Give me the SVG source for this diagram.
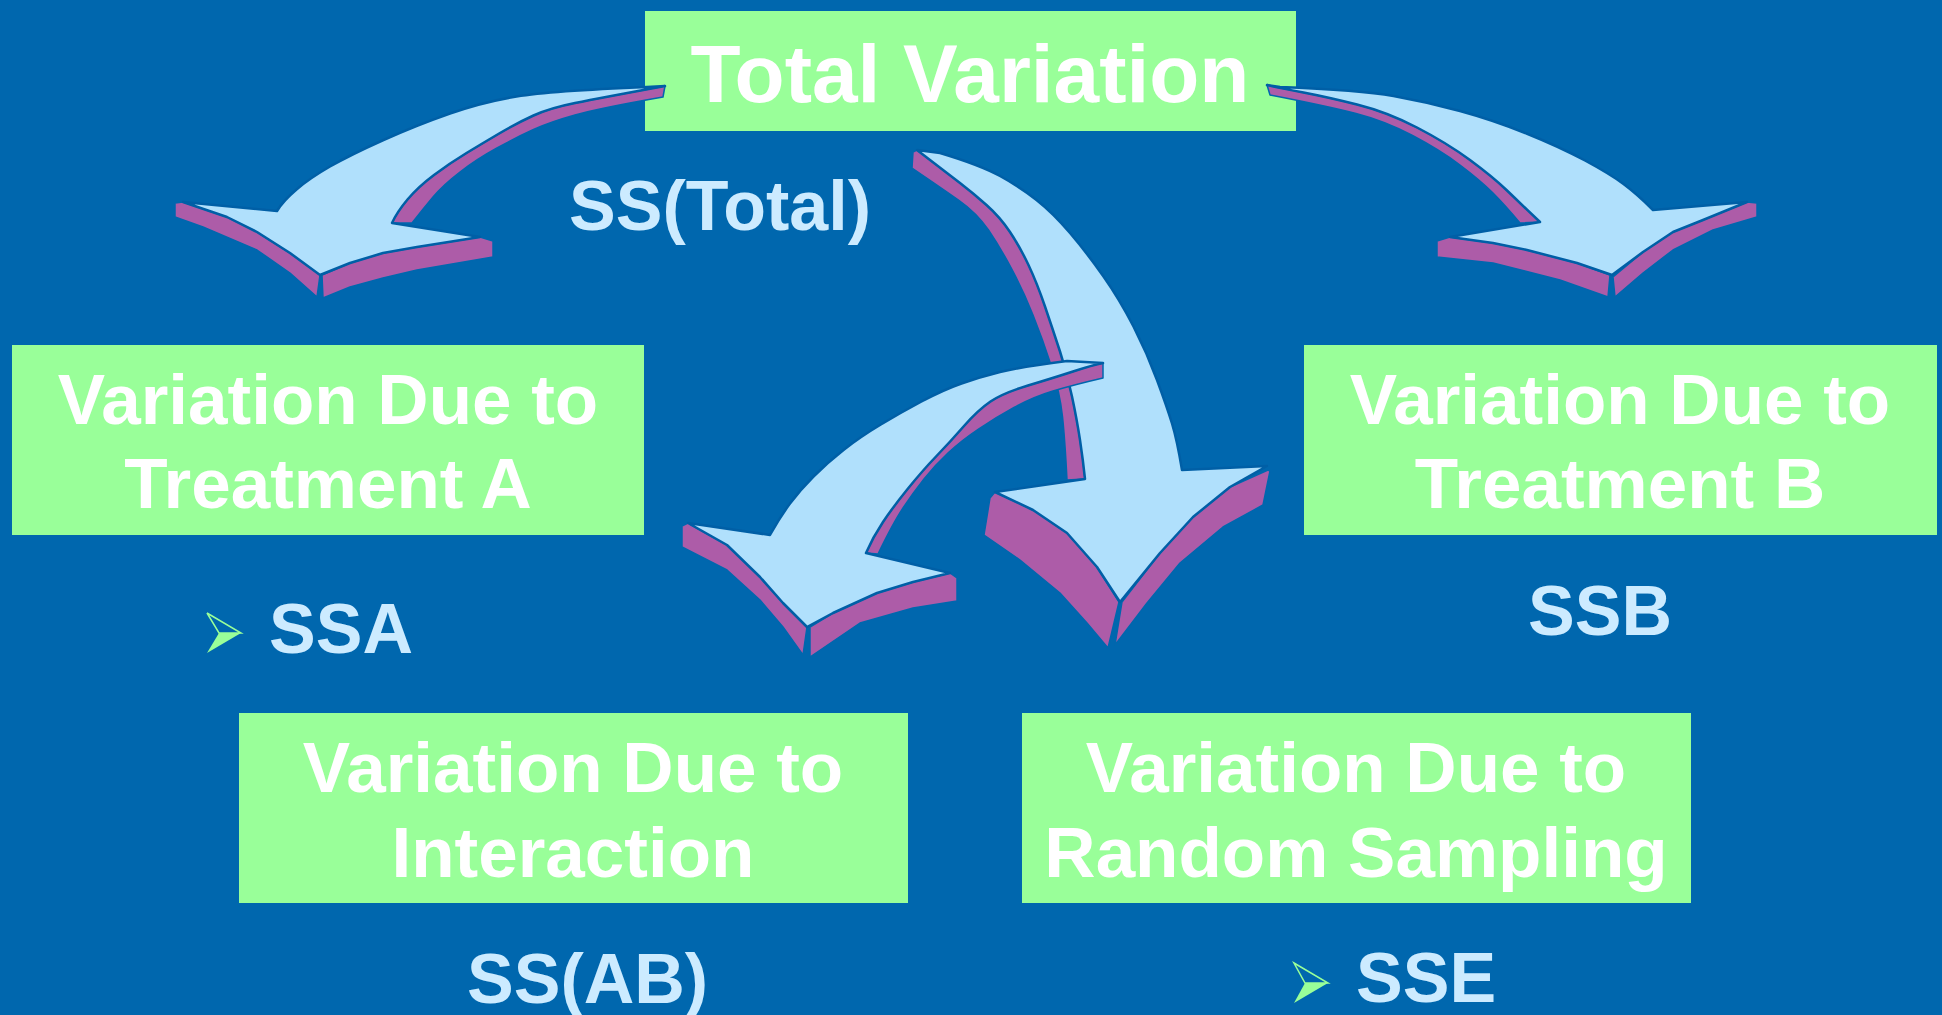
<svg xmlns="http://www.w3.org/2000/svg" width="1942" height="1015" viewBox="0 0 1942 1015">
<defs>
<style>
.bg{fill:#0067AE}
.box{fill:#99FF99}
.bt{font-family:"Liberation Sans",Arial,sans-serif;font-weight:bold;fill:#FFFFFF;text-anchor:middle;font-size:71px}
.ss{font-family:"Liberation Sans",Arial,sans-serif;font-weight:bold;font-size:70px;fill:#CCEBFF}
.face{fill:#B0E0FC;stroke:#005FA6;stroke-width:2.5;stroke-linejoin:round}
.side{fill:#AD5CA8;stroke:#0067AE;stroke-width:1.5;stroke-linejoin:round}
.bo{fill:none;stroke:#99FF99;stroke-width:1.5;stroke-linejoin:miter}
.bf{fill:#99FF99}
</style>
</defs>
<rect class="bg" x="0" y="0" width="1942" height="1015"/>

<g id="nodes">
<g id="total">
<rect class="box" x="645" y="11" width="651" height="120"/>
<text class="bt" x="970" y="102" style="font-size:82px">Total Variation</text>
</g>
<g id="ss-total">
<text class="ss" x="569" y="230">SS(Total)</text>
</g>
<g id="treatA">
<rect class="box" x="12" y="345" width="632" height="190"/>
<text class="bt" x="328" y="424">Variation Due to</text>
<text class="bt" x="328" y="508">Treatment A</text>
</g>
<g id="ssa">
<path class="bo" d="M207,613 L241,633 L219,633 Z"/>
<path class="bf" d="M219,633 L241,633 L207,653 Z"/>
<text class="ss" x="269" y="653">SSA</text>
</g>
<g id="treatB">
<rect class="box" x="1304" y="345" width="633" height="190"/>
<text class="bt" x="1620" y="424">Variation Due to</text>
<text class="bt" x="1620" y="508">Treatment B</text>
</g>
<g id="ssb">
<text class="ss" x="1528" y="635">SSB</text>
</g>
<g id="interaction">
<rect class="box" x="239" y="713" width="669" height="190"/>
<text class="bt" x="573" y="792">Variation Due to</text>
<text class="bt" x="573" y="877">Interaction</text>
</g>
<g id="ssab">
<text class="ss" x="467" y="1003">SS(AB)</text>
</g>
<g id="random">
<rect class="box" x="1022" y="713" width="669" height="190"/>
<text class="bt" x="1356" y="792">Variation Due to</text>
<text class="bt" x="1356" y="877">Random Sampling</text>
</g>
<g id="sse">
<path class="bo" d="M1294,963 L1328,983 L1305,983 Z"/>
<path class="bf" d="M1305,983 L1328,983 L1294,1003 Z"/>
<text class="ss" x="1356" y="1002">SSE</text>
</g>
</g>

<g id="connectors">
<g id="arrow-left">
<path class="side" d="M183,202 L227,217 L257,232 L290,253 L320,275 L317,297 L290,273 L257,250 L203,227 L175,217 L175,203 Z"/>
<path class="side" d="M322,275 L350,263 L383,253 L417,247 L480,237 L493,241 L493,257 L417,270 L383,278 L350,287 L323,298 Z"/>
<path class="side" d="M392,223 Q397,212 407.5,199.5 Q418,187 434,175 Q450,163 466.5,153 Q483,143 500,133 Q517,123 533.5,115.5 Q550,108 575,103 Q600,98 665,86 L663,97 Q600,108 575,115 Q550,122 533.5,129.5 Q517,137 497,148 Q477,159 460,172 Q443,185 433,197 Q423,209 412,223 Z"/>
<path class="face" d="M665,86 L647,87 Q550,91 516.5,96.5 Q483,102 450,113.5 Q417,125 383.5,140 Q350,155 330,166.5 Q310,178 296.5,189.5 Q283,201 277,211 L183,202 L227,217 L257,232 L290,253 L320,275 L350,263 L383,253 L417,247 L480,237 L392,223 Q397,212 407.5,199.5 Q418,187 434,175 Q450,163 466.5,153 Q483,143 500,133 Q517,123 533.5,115.5 Q550,108 575,103 Q600,98 665,86 Z"/>
</g>
<g id="arrow-right">
<path class="side" d="M1540,222 Q1520,203 1506.5,190 Q1493,177 1470,160 Q1447,143 1417,127.5 Q1387,112 1357,104.5 Q1327,97 1303.5,92.5 Q1280,88 1267,85 L1270,95 Q1327,106 1356,113.5 Q1385,121 1412.5,135.5 Q1440,150 1460,165 Q1480,180 1492.5,192.5 Q1505,205 1520,223 Z"/>
<path class="side" d="M1450,237 L1493,243 L1527,250 L1577,263 L1610,275 L1608,297 L1560,280 L1493,263 L1437,257 L1437,241 Z"/>
<path class="side" d="M1613,277 L1643,252 L1673,232 L1703,220 L1747,202 L1757,203 L1757,217 L1713,230 L1673,250 L1643,273 L1615,297 Z"/>
<path class="face" d="M1267,85 L1280,87 Q1360,90 1393.5,96 Q1427,102 1460,111 Q1493,120 1526.5,133.5 Q1560,147 1585,160.5 Q1610,174 1623.5,184 Q1637,194 1653,210 L1747,202 L1703,220 L1673,232 L1643,252 L1612,275 L1577,263 L1527,250 L1493,243 L1450,237 L1540,222 Q1520,203 1506.5,190 Q1493,177 1470,160 Q1447,143 1417,127.5 Q1387,112 1357,104.5 Q1327,97 1303.5,92.5 Q1280,88 1267,85 Z"/>
</g>
<g id="arrow-middle">
<path class="side" d="M1085,479 Q1083,460 1080,440 Q1077,420 1072,396.5 Q1067,373 1060,351.5 Q1053,330 1045,306.5 Q1037,283 1028.5,265 Q1020,247 1010,232 Q1000,217 986.5,205 Q973,193 960,183 Q947,173 917,150 L913,152 L912,168 Q940,187 958.5,200 Q977,213 988.5,230 Q1000,247 1011.5,268.5 Q1023,290 1033,315 Q1043,340 1051.5,366.5 Q1060,393 1062.5,416.5 Q1065,440 1067,480 Z"/>
<path class="side" d="M995,492 L1033,510 L1067,533 L1097,567 L1119,602 L1108,648 L1087,623 L1060,593 L1020,560 L984,535 L990,498 Z"/>
<path class="side" d="M1122,602 L1160,553 L1193,517 L1230,487 L1268,470 L1270,471 L1263,505 L1223,527 L1180,563 L1147,603 L1115,645 Z"/>
<path class="face" d="M917,150 L940,153 Q980,165 1000,176 Q1020,187 1036.5,200 Q1053,213 1070,233 Q1087,253 1103.5,276.5 Q1120,300 1133.5,326.5 Q1147,353 1157,380 Q1167,407 1172,423.5 Q1177,440 1182,470 L1267,466 L1230,487 L1193,517 L1160,553 L1120,602 L1097,567 L1067,533 L1033,510 L995,492 L1085,479 Q1083,460 1080,440 Q1077,420 1072,396.5 Q1067,373 1060,351.5 Q1053,330 1045,306.5 Q1037,283 1028.5,265 Q1020,247 1010,232 Q1000,217 986.5,205 Q973,193 960,183 Q947,173 917,150 Z"/>
</g>
<g id="arrow-interaction">
<path class="side" d="M866,553 Q873,537 883,522 Q893,507 908,488.5 Q923,470 936.5,456 Q950,442 964,426 Q978,410 990.5,401.5 Q1003,393 1028,385.5 Q1053,378 1073,371.5 Q1093,365 1103,363 L1103,378 Q1073,385 1053,391 Q1033,397 1014,407.5 Q995,418 978.5,429 Q962,440 948.5,452.5 Q935,465 924,479 Q913,493 903,508 Q893,523 878,554 Z"/>
<path class="side" d="M688,523 L727,545 L760,577 L783,603 L807,627 L803,655 L783,627 L760,600 L727,570 L682,547 L682,526 Z"/>
<path class="side" d="M810,627 L833,613 L877,593 L913,582 L950,573 L957,578 L957,601 L913,608 L860,623 L810,657 Z"/>
<path class="face" d="M1103,363 L1067,361 Q1020,367 1000,372 Q980,377 961.5,383.5 Q943,390 921.5,401.5 Q900,413 880,425 Q860,437 843.5,450 Q827,463 813.5,476.5 Q800,490 790,503.5 Q780,517 770,535 L688,523 L727,545 L760,577 L783,603 L807,627 L833,613 L877,593 L913,582 L950,573 L866,553 Q873,537 883,522 Q893,507 908,488.5 Q923,470 936.5,456 Q950,442 964,426 Q978,410 990.5,401.5 Q1003,393 1028,385.5 Q1053,378 1073,371.5 Q1093,365 1103,363 Z"/>
</g>
</g>
</svg>
